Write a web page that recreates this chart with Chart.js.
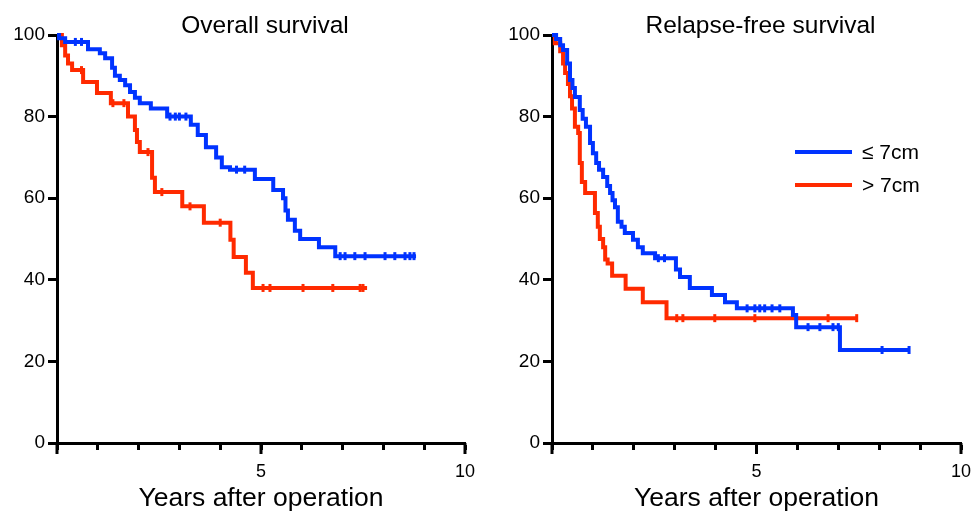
<!DOCTYPE html>
<html>
<head>
<meta charset="utf-8">
<script src="https://cdn.jsdelivr.net/npm/chart.js@4.4.1/dist/chart.umd.min.js"></script>
<style>
  body { margin: 0; background: #fff; width: 971px; height: 515px; overflow: hidden; position: relative; }
  canvas { position: absolute; top: 0; }
  #osChart { left: 0; }
  #rfsChart { left: 490px; }
</style>
</head>
<body>
<canvas id="osChart" width="490" height="515"></canvas>
<canvas id="rfsChart" width="481" height="515"></canvas>
<script>
const FONT = "'Liberation Sans', Arial, sans-serif";
const BLUE = '#0033ff';
const RED = '#ff2a00';

const legendLabels = ['\u2264 7cm', '> 7cm'];
const panelTitles = ['Overall survival', 'Relapse-free survival'];
const xTitle = 'Years after operation';
const xTickLabels = [5, 10];
const yTicks = [0, 20, 40, 60, 80, 100];

// overall survival, <= 7cm
const osSmallT = [0, 0.05, 0.2, 0.76, 1.05, 1.18, 1.35, 1.42, 1.54, 1.67, 1.79, 1.91, 2.03, 2.3, 2.7, 3.28, 3.45, 3.65, 3.9, 4.04, 4.24, 4.85, 5.3, 5.54, 5.6, 5.66, 5.83, 5.96, 6.42, 6.82, 8.8];
const osSmallS = [100, 99.2, 98.3, 96.5, 95.5, 94.3, 92, 90, 89, 87.7, 86, 84.6, 83.3, 82, 80, 78, 75.5, 72.5, 70, 67.6, 67, 64.7, 62, 60, 57, 54.7, 52, 50, 48, 45.8, 45.8];
const osSmallCens = [0.45, 0.6, 2.77, 2.9, 3.0, 3.16, 4.4, 4.6, 6.94, 7.06, 7.3, 7.55, 8.04, 8.28, 8.53, 8.65, 8.75];

// overall survival, > 7cm
const osLargeT = [0, 0.12, 0.2, 0.27, 0.37, 0.64, 0.98, 1.32, 1.74, 1.91, 1.96, 2.03, 2.33, 2.4, 3.07, 3.6, 4.25, 4.33, 4.63, 4.8, 7.6];
const osLargeS = [100, 97.5, 95, 93, 91.4, 88.5, 85.8, 83.3, 80, 76.7, 73.8, 71.3, 65, 61.5, 58, 54, 49.8, 45.6, 41.7, 38, 38];
const osLargeCens = [0.6, 1.37, 1.64, 2.23, 2.57, 3.26, 4.0, 5.05, 5.22, 6.03, 6.76, 7.43, 7.5];

// relapse-free survival, <= 7cm
const rfsSmallT = [0, 0.1, 0.2, 0.27, 0.37, 0.44, 0.5, 0.56, 0.68, 0.75, 0.83, 0.93, 1.0, 1.08, 1.15, 1.25, 1.35, 1.42, 1.48, 1.54, 1.61, 1.7, 1.78, 1.98, 2.1, 2.22, 2.52, 3.03, 3.13, 3.37, 3.91, 4.23, 4.52, 5.89, 5.97, 7.04, 8.73];
const rfsSmallS = [100, 99, 97.5, 96.3, 93, 89, 87, 84.8, 81.6, 79.5, 77.5, 73.5, 71, 68.6, 67, 65.2, 63, 61.3, 59.5, 57.8, 54.2, 53, 51.5, 49.8, 48, 46.5, 45.3, 42.5, 40.7, 38, 36.3, 34.5, 33, 31.4, 28.4, 22.8, 22.8];
const rfsSmallCens = [2.6, 2.75, 4.77, 4.96, 5.08, 5.2, 5.38, 5.57, 6.26, 6.55, 6.87, 7.0, 8.07, 8.73];

// relapse-free survival, > 7cm
const rfsLargeT = [0, 0.07, 0.2, 0.27, 0.32, 0.39, 0.44, 0.49, 0.56, 0.64, 0.68, 0.73, 0.81, 1.05, 1.12, 1.17, 1.25, 1.3, 1.36, 1.47, 1.8, 2.22, 2.8, 7.45];
const rfsLargeS = [100, 98, 96, 93, 90.7, 88, 85, 82, 77.5, 76, 68.6, 64, 61.3, 56.4, 53, 50, 48, 45, 44, 41, 37.8, 34.5, 30.6, 30.6];
const rfsLargeCens = [3.05, 3.2, 3.98, 4.96, 6.75, 7.45];

function survAt(T, S, t) {
  let v = S[0];
  for (let i = 0; i < T.length; i++) if (T[i] <= t) v = S[i];
  return v;
}

function curve(label, T, S, color) {
  return {
    label, type: 'line', stepped: 'before',
    data: T.map((t, i) => ({ x: t, y: S[i] })),
    borderColor: color, borderWidth: 4, pointRadius: 0, fill: false, clip: false
  };
}

function censors(T, S, C, color) {
  return {
    label: '', type: 'scatter',
    data: C.map(t => ({ x: t, y: survAt(T, S, t) })),
    pointStyle: 'line', rotation: 90, pointRadius: 4, borderWidth: 3,
    borderColor: color, backgroundColor: color, clip: false
  };
}

// panel title + longer major ticks on the x axis + legend
const decor = {
  id: 'decor',
  afterDraw(chart, args, opts) {
    const { ctx, chartArea } = chart;
    const xs = chart.scales.x;
    ctx.save();
    ctx.fillStyle = '#000';
    ctx.font = '24.5px ' + FONT;
    ctx.textAlign = 'center';
    ctx.textBaseline = 'alphabetic';
    ctx.fillText(opts.title, (chartArea.left + chartArea.right) / 2 + 4, 33);
    ctx.strokeStyle = '#000';
    ctx.lineWidth = 3;
    [0].concat(xTickLabels).forEach(v => {
      const px = xs.getPixelForValue(v);
      ctx.beginPath();
      ctx.moveTo(px, chartArea.bottom);
      ctx.lineTo(px, chartArea.bottom + 11);
      ctx.stroke();
    });
    if (opts.legend) {
      const lx = chartArea.left + 243, ly = 152;
      chart.data.datasets.filter(d => d.type === 'line').forEach((d, i) => {
        const y = ly + i * 33;
        ctx.strokeStyle = d.borderColor;
        ctx.lineWidth = 4;
        ctx.beginPath();
        ctx.moveTo(lx, y);
        ctx.lineTo(lx + 57, y);
        ctx.stroke();
        ctx.fillStyle = '#000';
        ctx.font = '21px ' + FONT;
        ctx.textAlign = 'left';
        ctx.textBaseline = 'middle';
        ctx.fillText(d.label, lx + 67, y + 1);
      });
    }
    ctx.restore();
  }
};

function makeChart(id, title, sets, yWidth, padRight, legend) {
  return new Chart(document.getElementById(id), {
    data: { datasets: sets },
    plugins: [decor],
    options: {
      responsive: false,
      animation: false,
      layout: { padding: { top: 35, right: padRight, left: 0, bottom: 0 } },
      plugins: {
        legend: { display: false },
        tooltip: { enabled: false },
        decor: { title, legend }
      },
      scales: {
        x: {
          type: 'linear', min: 0, max: 10,
          afterFit: s => { s.height = 72; s.paddingLeft = 0; s.paddingRight = 0; },
          border: { display: true, color: '#000', width: 3 },
          grid: { drawOnChartArea: false, drawTicks: true, tickLength: 7, tickWidth: 3, tickColor: '#000' },
          ticks: {
            stepSize: 1, autoSkip: false, maxRotation: 0, color: '#000', padding: 11,
            font: { family: FONT, size: 18 },
            callback: v => (xTickLabels.includes(v) ? String(v) : '')
          },
          title: { display: true, text: xTitle, color: '#000', font: { family: FONT, size: 26.5 }, padding: 0 }
        },
        y: {
          type: 'linear', min: 0, max: 100,
          afterFit: s => { s.width = yWidth; s.paddingTop = 0; s.paddingBottom = 0; },
          border: { display: true, color: '#000', width: 3 },
          grid: { drawOnChartArea: false, drawTicks: true, tickLength: 9, tickWidth: 3, tickColor: '#000' },
          afterBuildTicks: s => { s.ticks = yTicks.map(v => ({ value: v })); },
          ticks: { color: '#000', padding: 3, font: { family: FONT, size: 19 } }
        }
      }
    }
  });
}

makeChart('osChart', panelTitles[0], [
  curve(legendLabels[0], osSmallT, osSmallS, BLUE),
  curve(legendLabels[1], osLargeT, osLargeS, RED),
  censors(osSmallT, osSmallS, osSmallCens, BLUE),
  censors(osLargeT, osLargeS, osLargeCens, RED)
], 57, 25, false);

makeChart('rfsChart', panelTitles[1], [
  curve(legendLabels[0], rfsSmallT, rfsSmallS, BLUE),
  curve(legendLabels[1], rfsLargeT, rfsLargeS, RED),
  censors(rfsSmallT, rfsSmallS, rfsSmallCens, BLUE),
  censors(rfsLargeT, rfsLargeS, rfsLargeCens, RED)
], 62, 10, true);
</script>
</body>
</html>
